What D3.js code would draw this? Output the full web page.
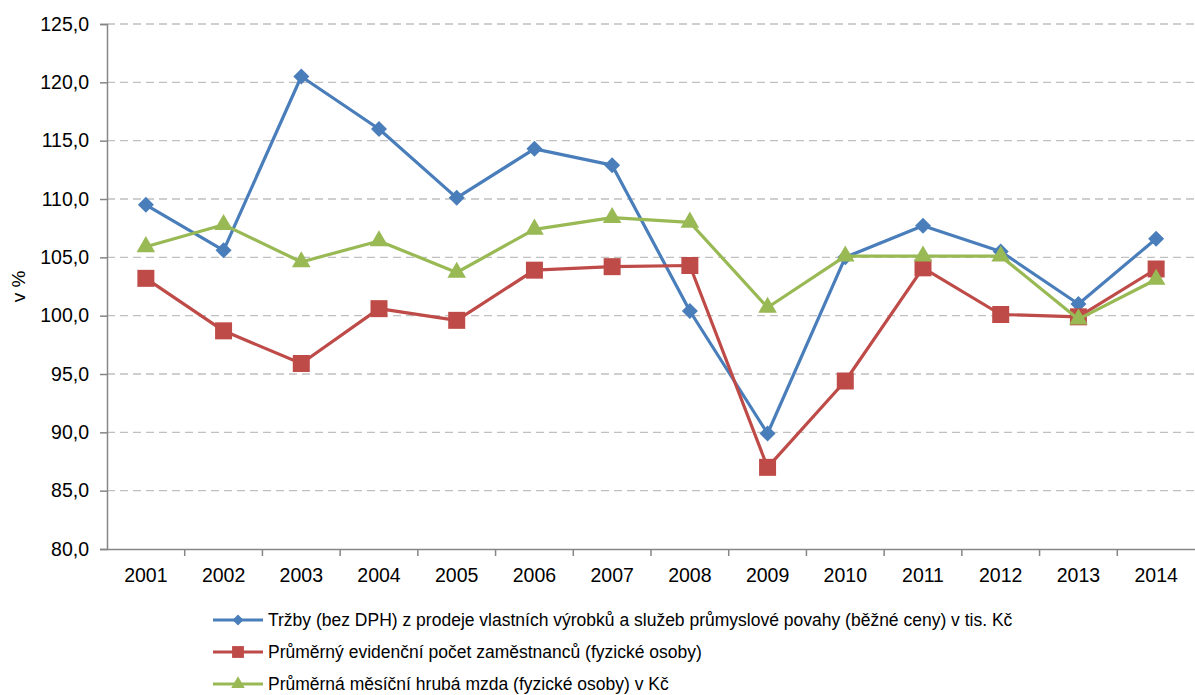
<!DOCTYPE html>
<html>
<head>
<meta charset="utf-8">
<script src="https://cdn.jsdelivr.net/npm/d3@7"></script>
<style>
  body { margin: 0; background: #fff; }
  text { font-family: "Liberation Sans", Arial, sans-serif; }
</style>
</head>
<body>
<svg id="chart" width="1195" height="695"></svg>
<script>
const years = ['2001', '2002', '2003', '2004', '2005', '2006', '2007', '2008', '2009', '2010', '2011', '2012', '2013', '2014'];
const trzby = [109.5, 105.6, 120.5, 116.0, 110.1, 114.3, 112.9, 100.4, 89.9, 105.0, 107.7, 105.5, 101.0, 106.6];
const pocet = [103.2, 98.7, 95.9, 100.6, 99.6, 103.9, 104.2, 104.3, 87.0, 94.4, 104.1, 100.1, 99.9, 104.0];
const mzda = [105.9, 107.8, 104.6, 106.4, 103.7, 107.4, 108.4, 108.0, 100.7, 105.1, 105.1, 105.1, 99.7, 103.1];
const yTicks = [80, 85, 90, 95, 100, 105, 110, 115, 120, 125];
const seriesNames = [
  'Tržby (bez DPH) z prodeje vlastních výrobků a služeb průmyslové povahy (běžné ceny) v tis. Kč',
  'Průměrný evidenční počet zaměstnanců (fyzické osoby)',
  'Průměrná měsíční hrubá mzda (fyzické osoby) v Kč'
];

main();

function main () {
  const svg = d3.select('#chart');
  const left = 107, right = 1195, top = 24, bottom = 549;
  const font = '"Liberation Sans", Arial, sans-serif';

  const x = d3.scaleBand().domain(years).range([left, right]);
  const y = d3.scaleLinear().domain([80, 125]).range([bottom, top]);

  // diamond = square turned by 45 degrees
  const series = [
    { name: seriesNames[0], values: trzby, color: '#4a7ebb', symbol: d3.symbolSquare, size: 128, rot: 45, lsize: 60 },
    { name: seriesNames[1], values: pocet, color: '#be4b48', symbol: d3.symbolSquare, size: 289, rot: 0, lsize: 140 },
    { name: seriesNames[2], values: mzda, color: '#98b954', symbol: d3.symbolTriangle, size: 150, rot: 0, lsize: 80 }
  ];

  // grid
  svg.append('g').selectAll('line').data(yTicks.filter(t => t > 80)).join('line')
    .attr('x1', left).attr('x2', right)
    .attr('y1', d => y(d)).attr('y2', d => y(d))
    .attr('stroke', '#c0c0c0').attr('stroke-width', 1.3)
    .attr('stroke-dasharray', '8,5');

  // y axis
  const yAxis = svg.append('g').attr('transform', `translate(${left},0)`)
    .call(d3.axisLeft(y).tickValues(yTicks).tickSize(7).tickPadding(11)
      .tickFormat(d => d3.format('.1f')(d).replace('.', ',')));
  yAxis.select('.domain').attr('stroke', '#868686').attr('stroke-width', 1.5);
  yAxis.selectAll('.tick line').attr('stroke', '#868686').attr('stroke-width', 1.5);
  yAxis.selectAll('text').attr('font-size', 19.5).attr('fill', '#000').attr('font-family', font);

  // x axis
  const xAxis = svg.append('g').attr('transform', `translate(0,${bottom})`)
    .call(d3.axisBottom(x).tickSize(0).tickPadding(19));
  xAxis.select('.domain').attr('stroke', '#868686').attr('stroke-width', 1.5);
  xAxis.selectAll('text').attr('font-size', 19.5).attr('fill', '#000').attr('font-family', font);
  // category separators
  svg.append('g').selectAll('line').data(years.slice(1)).join('line')
    .attr('x1', d => x(d)).attr('x2', d => x(d))
    .attr('y1', bottom).attr('y2', bottom + 7)
    .attr('stroke', '#868686').attr('stroke-width', 1.5);

  // axis title
  svg.append('text').text('v %')
    .attr('transform', `translate(25,${(top + bottom) / 2}) rotate(-90)`)
    .attr('text-anchor', 'middle').attr('font-size', 19).attr('fill', '#000');

  const cx = d => x(d) + x.bandwidth() / 2;
  const line = d3.line().x(d => cx(d.year)).y(d => y(d.value));

  for (const s of series) {
    const pts = s.values.map((v, i) => ({ year: years[i], value: v }));
    svg.append('path').datum(pts)
      .attr('d', line).attr('fill', 'none')
      .attr('stroke', s.color).attr('stroke-width', 3.2)
      .attr('stroke-linejoin', 'round');
    svg.append('g').selectAll('path').data(pts).join('path')
      .attr('d', d3.symbol().type(s.symbol).size(s.size))
      .attr('transform', d => `translate(${cx(d.year)},${y(d.value)}) rotate(${s.rot})`)
      .attr('fill', s.color);
  }

  // legend
  const legendY = [620, 652, 684];
  series.forEach((s, i) => {
    const g = svg.append('g').attr('transform', `translate(0,${legendY[i]})`);
    g.append('line').attr('x1', 213).attr('x2', 263).attr('y1', 0).attr('y2', 0)
      .attr('stroke', s.color).attr('stroke-width', 3.2);
    g.append('path').attr('d', d3.symbol().type(s.symbol).size(s.lsize))
      .attr('transform', `translate(238,0) rotate(${s.rot})`).attr('fill', s.color);
    g.append('text').text(s.name).attr('x', 268).attr('y', 6)
      .attr('font-size', 17.5).attr('fill', '#000');
  });
}
</script>
</body>
</html>
